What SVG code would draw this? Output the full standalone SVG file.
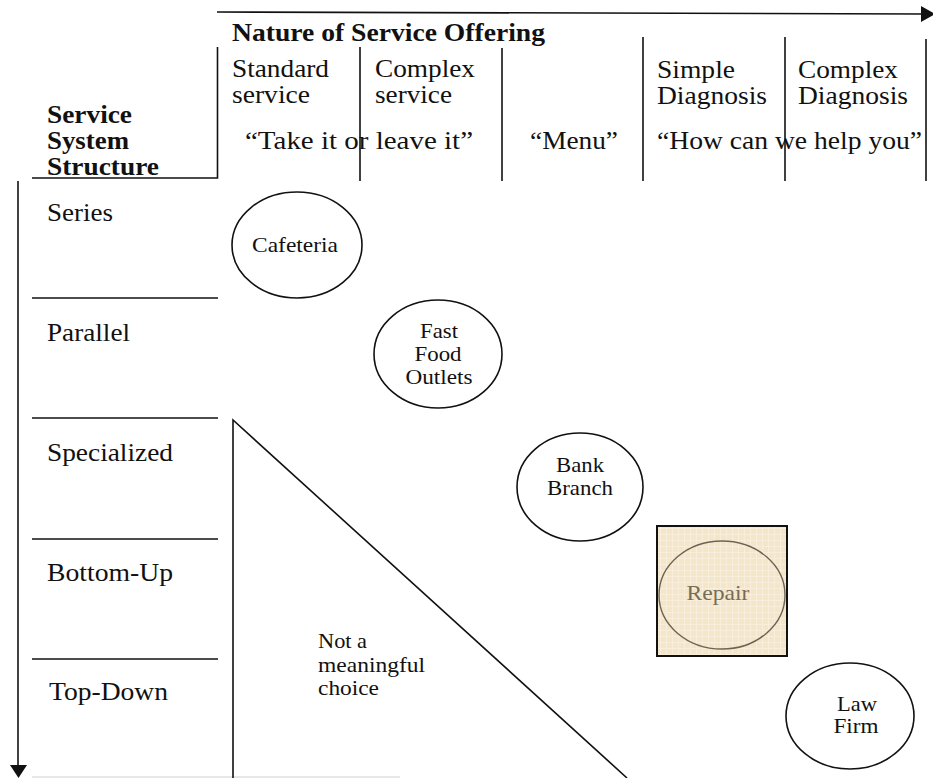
<svg xmlns="http://www.w3.org/2000/svg" width="933" height="778" viewBox="0 0 933 778">
  <style>
    .ln { stroke: #111; stroke-width: 1.6; fill: none; }
    .faint { stroke: #cfcfcf; stroke-width: 1.2; fill: none; }
    .lbl { font-family: "Liberation Serif", "Times New Roman", serif; font-size: 25px; fill: #111; }
    .hd { font-family: "Liberation Serif", "Times New Roman", serif; font-size: 25px; font-weight: bold; fill: #111; }
    .nd { font-family: "Liberation Serif", "Times New Roman", serif; font-size: 21px; fill: #111; text-anchor: middle; }
    .note { font-family: "Liberation Serif", "Times New Roman", serif; font-size: 21px; fill: #111; }
    .oval { stroke: #111; stroke-width: 1.6; fill: none; }
  </style>
  <defs>
    <pattern id="paper" width="6" height="6" patternUnits="userSpaceOnUse">
      <rect width="6" height="6" fill="#f4e6c9"/>
      <path d="M0 0.5H6M0.5 0V6" stroke="#f8eedb" stroke-width="1"/>
    </pattern>
  </defs>

  <rect width="933" height="778" fill="#ffffff"/>

  <!-- axes -->
  <g id="axes">
    <line class="ln" x1="217" y1="12" x2="924" y2="14"/>
    <polygon points="921,6 935,14 921,22" fill="#111"/>
    <line class="ln" x1="18" y1="181" x2="18" y2="767"/>
    <polygon points="10,765 27,765 18.5,778" fill="#111"/>
  </g>

  <!-- grid lines of the matrix -->
  <g id="connectors">
    <polyline class="ln" points="32,178 217.5,178 217.5,47"/>
    <line class="ln" x1="360" y1="47" x2="360" y2="181"/>
    <line class="ln" x1="502" y1="48" x2="502" y2="181"/>
    <line class="ln" x1="643" y1="37" x2="643" y2="181"/>
    <line class="ln" x1="785" y1="37" x2="785" y2="181"/>
    <line class="ln" x1="926" y1="39" x2="926" y2="181"/>
    <line class="ln" x1="32" y1="298" x2="218" y2="298"/>
    <line class="ln" x1="32" y1="418" x2="218" y2="418"/>
    <line class="ln" x1="32" y1="539" x2="218" y2="539"/>
    <line class="ln" x1="32" y1="659" x2="218" y2="659"/>
    <line class="faint" x1="32" y1="777" x2="400" y2="777"/>
    <!-- triangle of non-meaningful combinations -->
    <polyline class="ln" points="233,778 233,420 627,778"/>
  </g>

  <!-- column headings -->
  <g id="header">
    <text class="hd" x="232" y="41" textLength="313" lengthAdjust="spacingAndGlyphs">Nature of Service Offering</text>
    <text class="lbl" x="232" y="77" textLength="97" lengthAdjust="spacingAndGlyphs">Standard</text>
    <text class="lbl" x="232" y="103" textLength="78" lengthAdjust="spacingAndGlyphs">service</text>
    <text class="lbl" x="375" y="77" textLength="100" lengthAdjust="spacingAndGlyphs">Complex</text>
    <text class="lbl" x="375" y="103" textLength="77" lengthAdjust="spacingAndGlyphs">service</text>
    <text class="lbl" x="657" y="78" textLength="78" lengthAdjust="spacingAndGlyphs">Simple</text>
    <text class="lbl" x="657" y="104" textLength="110" lengthAdjust="spacingAndGlyphs">Diagnosis</text>
    <text class="lbl" x="798" y="78" textLength="100" lengthAdjust="spacingAndGlyphs">Complex</text>
    <text class="lbl" x="798" y="104" textLength="110" lengthAdjust="spacingAndGlyphs">Diagnosis</text>
    <text class="lbl" x="245" y="149" textLength="228" lengthAdjust="spacingAndGlyphs">“Take it or leave it”</text>
    <text class="lbl" x="530" y="149" textLength="88" lengthAdjust="spacingAndGlyphs">“Menu”</text>
    <text class="lbl" x="657" y="149" textLength="265" lengthAdjust="spacingAndGlyphs">“How can we help you”</text>
  </g>

  <!-- row headings -->
  <g id="rows">
    <text class="hd" x="47" y="123" textLength="85" lengthAdjust="spacingAndGlyphs">Service</text>
    <text class="hd" x="47" y="149" textLength="82" lengthAdjust="spacingAndGlyphs">System</text>
    <text class="hd" x="47" y="175" textLength="112" lengthAdjust="spacingAndGlyphs">Structure</text>
    <text class="lbl" x="47" y="221" textLength="66" lengthAdjust="spacingAndGlyphs">Series</text>
    <text class="lbl" x="47" y="341" textLength="83" lengthAdjust="spacingAndGlyphs">Parallel</text>
    <text class="lbl" x="47" y="461" textLength="126" lengthAdjust="spacingAndGlyphs">Specialized</text>
    <text class="lbl" x="47" y="581" textLength="126" lengthAdjust="spacingAndGlyphs">Bottom-Up</text>
    <text class="lbl" x="49" y="700" textLength="119" lengthAdjust="spacingAndGlyphs">Top-Down</text>
  </g>

  <!-- service types -->
  <g id="cafeteria">
    <ellipse class="oval" cx="297" cy="245" rx="65" ry="53"/>
    <text class="nd" x="295" y="252" textLength="86" lengthAdjust="spacingAndGlyphs">Cafeteria</text>
  </g>
  <g id="fast-food">
    <ellipse class="oval" cx="438" cy="354" rx="64" ry="54"/>
    <text class="nd" x="439" y="338" textLength="38" lengthAdjust="spacingAndGlyphs">Fast</text>
    <text class="nd" x="438" y="361" textLength="47" lengthAdjust="spacingAndGlyphs">Food</text>
    <text class="nd" x="439" y="384" textLength="67" lengthAdjust="spacingAndGlyphs">Outlets</text>
  </g>
  <g id="bank-branch">
    <ellipse class="oval" cx="580" cy="487" rx="63" ry="54"/>
    <text class="nd" x="580" y="472" textLength="48" lengthAdjust="spacingAndGlyphs">Bank</text>
    <text class="nd" x="580" y="495" textLength="66" lengthAdjust="spacingAndGlyphs">Branch</text>
  </g>
  <g id="repair">
    <rect x="657" y="526" width="130" height="130" fill="url(#paper)" stroke="#111" stroke-width="2"/>
    <ellipse cx="722" cy="595" rx="63" ry="54" fill="none" stroke="#6b6452" stroke-width="1.4"/>
    <text class="nd" x="718" y="600" style="fill:#756d58" textLength="63" lengthAdjust="spacingAndGlyphs">Repair</text>
  </g>
  <g id="law-firm">
    <ellipse class="oval" cx="850" cy="716" rx="64" ry="53"/>
    <text class="nd" x="857" y="711" textLength="40" lengthAdjust="spacingAndGlyphs">Law</text>
    <text class="nd" x="856" y="733" textLength="45" lengthAdjust="spacingAndGlyphs">Firm</text>
  </g>
  <g id="not-meaningful">
    <text class="note" x="318" y="648" textLength="49" lengthAdjust="spacingAndGlyphs">Not a</text>
    <text class="note" x="318" y="672" textLength="107" lengthAdjust="spacingAndGlyphs">meaningful</text>
    <text class="note" x="318" y="695" textLength="61" lengthAdjust="spacingAndGlyphs">choice</text>
  </g>
</svg>
